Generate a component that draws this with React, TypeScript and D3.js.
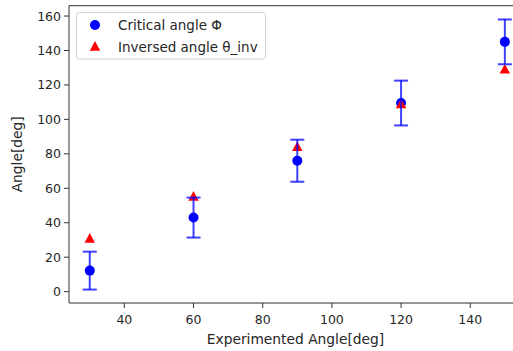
import React from "react";
import * as d3 from "d3";

const xVals = [30, 60, 90, 120, 150];
const critical = [12.2, 43, 76, 109.5, 145];
const criticalErr = [11, 11.6, 12.2, 13, 13];
const inversed = [30.8, 55.2, 84, 108.8, 129];
const xTicks = [40, 60, 80, 100, 120, 140];
const yTicks = [0, 20, 40, 60, 80, 100, 120, 140, 160];

const W = 513, H = 351;
const left = 69, right = 525.6, top = 5.7, bottom = 303;
const font = "DejaVu Sans, sans-serif";
const textColor = "#262626";

export default function App() {
  const x = d3.scaleLinear().domain([24, 156]).range([left, right]);
  const y = d3.scaleLinear().domain([-6.6, 166]).range([bottom, top]);
  const tri = (cx: number, cy: number, s: number) =>
    `M${cx},${cy - s}L${cx + s * 0.95},${cy + s * 0.75}L${cx - s * 0.95},${cy + s * 0.75}Z`;
  return (
    <svg width={W} height={H} style={{ position: "absolute", left: 0, top: 0, background: "#fff" }}>
      <rect x={0} y={0} width={W} height={H} fill="#fff" />
      {xVals.map((v, i) => (
        <circle key={"c" + i} cx={x(v)} cy={y(critical[i])} r={5} fill="#0000ff" />
      ))}
      {xVals.map((v, i) => (
        <path key={"t" + i} d={tri(x(v), y(inversed[i]), 5.5)} fill="#ff0000" />
      ))}
      {xVals.map((v, i) => {
        const cx = x(v);
        const y1 = y(critical[i] + criticalErr[i]);
        const y0 = y(critical[i] - criticalErr[i]);
        return (
          <g key={"e" + i} stroke="#0000ff" strokeOpacity={0.75} strokeWidth={2}>
            <line x1={cx} x2={cx} y1={y1} y2={y0} />
            <line x1={cx - 7} x2={cx + 7} y1={y1} y2={y1} />
            <line x1={cx - 7} x2={cx + 7} y1={y0} y2={y0} />
          </g>
        );
      })}
      <g stroke="#333" strokeWidth={1} fill="none">
        <line x1={left} x2={left} y1={top} y2={bottom} />
        <line x1={left} x2={right} y1={bottom} y2={bottom} />
        <line x1={left} x2={right} y1={top} y2={top} />
        <line x1={right} x2={right} y1={top} y2={bottom} />
      </g>
      {xTicks.map((t) => (
        <g key={"xt" + t}>
          <line x1={x(t)} x2={x(t)} y1={bottom} y2={bottom + 5} stroke="#333" />
          <text x={x(t)} y={bottom + 21} textAnchor="middle" fontFamily={font} fontSize={12.5} fill={textColor}>
            {t}
          </text>
        </g>
      ))}
      {yTicks.map((t) => (
        <g key={"yt" + t}>
          <line x1={left - 5} x2={left} y1={y(t)} y2={y(t)} stroke="#333" />
          <text x={left - 8} y={y(t) + 4.5} textAnchor="end" fontFamily={font} fontSize={12.5} fill={textColor}>
            {t}
          </text>
        </g>
      ))}
      <text x={295.5} y={344} textAnchor="middle" fontFamily={font} fontSize={13.8} fill={textColor}>
        Experimented Angle[deg]
      </text>
      <text
        transform={`translate(22,${(top + bottom) / 2}) rotate(-90)`}
        textAnchor="middle"
        fontFamily={font}
        fontSize={13.8}
        fill={textColor}
      >
        Angle[deg]
      </text>
      <rect x={76.5} y={12.5} width={189} height={46.5} rx={3} fill="#fff" fillOpacity={0.8} stroke="#d0d0d0" />
      <circle cx={95} cy={25} r={5} fill="#0000ff" />
      <text x={118} y={30} fontFamily={font} fontSize={13.5} fill={textColor}>
        Critical angle Φ
      </text>
      <path d={tri(95, 46.5, 5.5)} fill="#ff0000" />
      <text x={118} y={51.5} fontFamily={font} fontSize={13.5} fill={textColor}>
        Inversed angle θ_inv
      </text>
    </svg>
  );
}
